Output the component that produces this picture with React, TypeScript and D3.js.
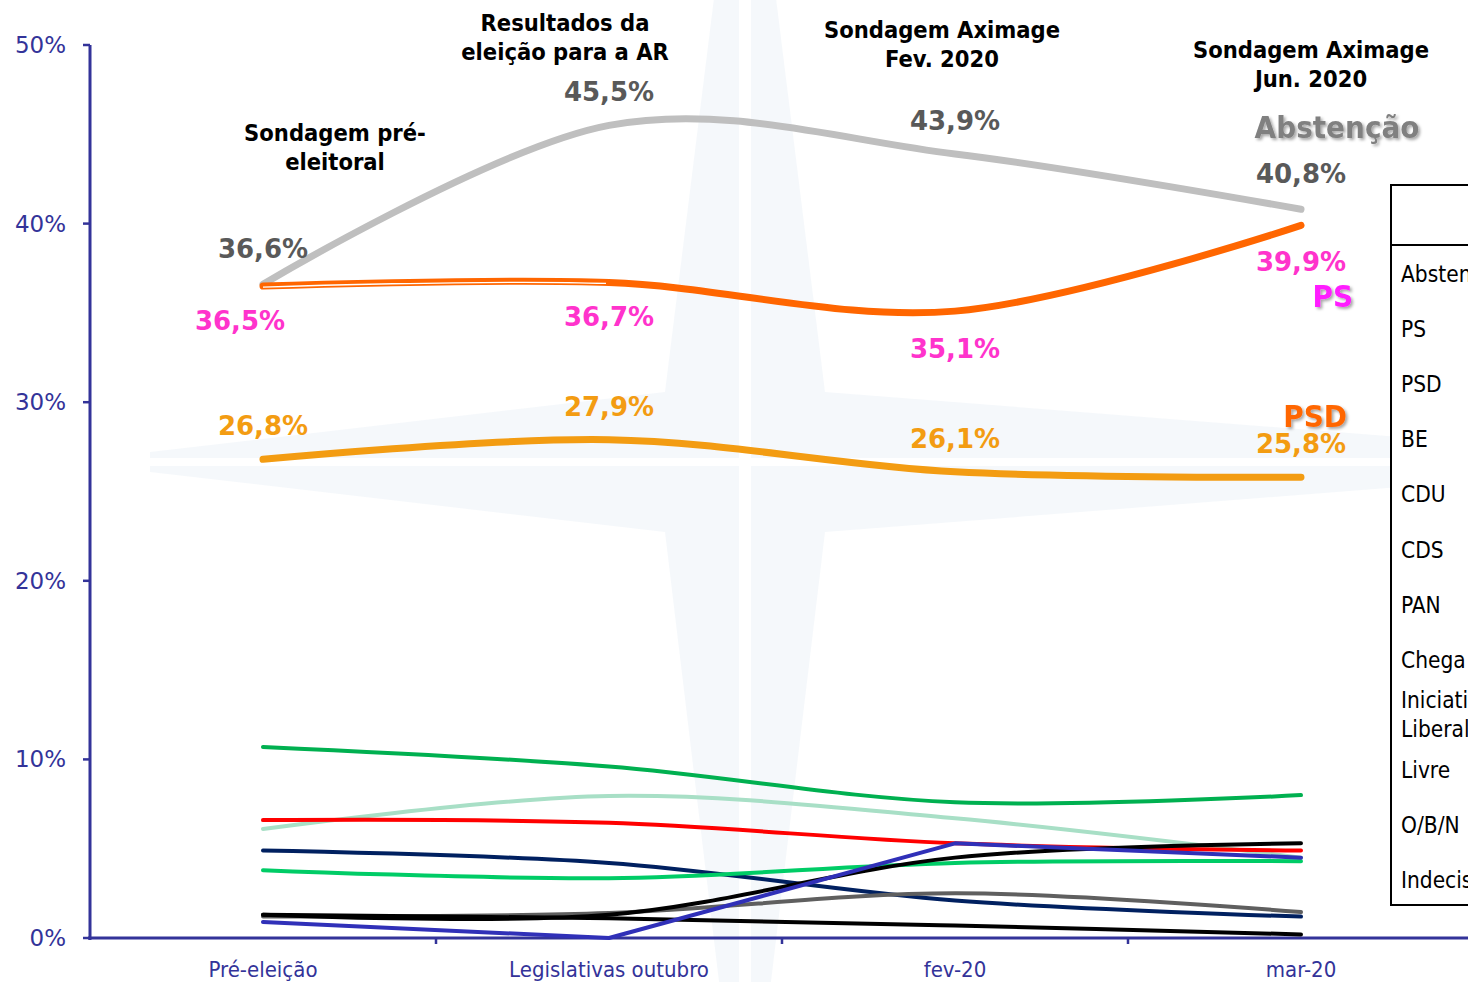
import React, { useEffect, useRef } from 'react';
import * as d3 from 'd3';

// categories on the x axis
const categories = ['Pré-eleição', 'Legislativas outubro', 'fev-20', 'mar-20'];

// series values (% of respondents)
const abstencao = [36.6, 45.5, 43.9, 40.8];
const ps = [36.5, 36.7, 35.1, 39.9];
const psd = [26.8, 27.9, 26.1, 25.8];
const be = [10.7, 9.6, 7.6, 8.0];
const cdu = [6.6, 6.45, 5.3, 4.9];
const cds = [4.9, 4.2, 2.1, 1.2];
const pan = [3.8, 3.35, 4.2, 4.3];
const chega = [1.3, 1.3, 4.5, 5.3];
const iniciativaLiberal = [1.2, 1.4, 2.5, 1.45];
const livre = [1.3, 1.1, 0.7, 0.2];
const obn = [6.1, 7.95, 6.7, 4.5];
const indecisos = [0.9, 0.0, 5.3, 4.5];

const yTicks = [0, 10, 20, 30, 40, 50];

const legendNames = ['Abstenção', 'PS', 'PSD', 'BE', 'CDU', 'CDS', 'PAN', 'Chega', 'Iniciativa Liberal', 'Livre', 'O/B/N', 'Indecisos'];

const pollTitles = [
  ['Sondagem pré-', 'eleitoral'],
  ['Resultados da', 'eleição para a AR'],
  ['Sondagem Aximage', 'Fev. 2020'],
  ['Sondagem Aximage', 'Jun. 2020'],
];

const fmt = (v: number) => v.toFixed(1).replace('.', ',') + '%';

const App: React.FC = () => {
  const chartRef = useRef<SVGSVGElement | null>(null);

  useEffect(() => {
    if (!chartRef.current) return;
    const svg = d3.select(chartRef.current);
    svg.selectAll('*').remove();

    const W = 1468;
    const H = 982;
    const axisColor = '#333399';
    const boldFont = "'DejaVu Sans', Verdana, sans-serif";
    const titleFont = "'DejaVu Sans Condensed', 'DejaVu Sans', sans-serif";
    const plainFont = "'DejaVu Sans Condensed', 'DejaVu Sans', sans-serif";

    svg.attr('width', W).attr('height', H);

    // shadow filter for the big series names
    const defs = svg.append('defs');
    const f = defs.append('filter').attr('id', 'shadow').attr('x', '-10%').attr('y', '-20%').attr('width', '130%').attr('height', '150%');
    f.append('feDropShadow').attr('dx', 2).attr('dy', 2).attr('stdDeviation', 1.5)
      .attr('flood-color', '#000').attr('flood-opacity', 0.35);
    defs.append('clipPath').attr('id', 'psFirst')
      .append('rect').attr('x', 262).attr('y', 0).attr('width', 344).attr('height', H);

    const x = d3.scaleBand<string>().domain(categories).range([90, 1474]);
    const cx = (c: string) => (x(c) as number) + x.bandwidth() / 2;
    const y = d3.scaleLinear().domain([0, 50]).range([938, 45]);

    // faint compass watermark
    const wm = svg.append('g');
    const c0 = { x: 745, y: 462 };
    wm.append('polygon')
      .attr('points', [
        [c0.x - 30, -10], [c0.x + 30, -10], [c0.x + 80, c0.y - 70], [1400, c0.y - 25], [1400, c0.y + 25], [c0.x + 80, c0.y + 70],
        [c0.x + 25, 990], [c0.x - 25, 990], [c0.x - 80, c0.y + 70], [150, c0.y + 10], [150, c0.y - 10], [c0.x - 80, c0.y - 70],
      ].map(p => p.join(',')).join(' '))
      .attr('fill', '#f2f5fa')
      .attr('opacity', 0.75);
    wm.append('line').attr('x1', c0.x).attr('x2', c0.x).attr('y1', 0).attr('y2', H)
      .attr('stroke', '#fff').attr('stroke-width', 12);
    wm.append('line').attr('x1', 90).attr('x2', W).attr('y1', c0.y).attr('y2', c0.y)
      .attr('stroke', '#fff').attr('stroke-width', 8);

    // axes
    const axes = svg.append('g').attr('stroke', axisColor);
    axes.append('line').attr('x1', 90).attr('x2', 90).attr('y1', y(50)).attr('y2', 940).attr('stroke-width', 3);
    axes.append('line').attr('x1', 88).attr('x2', W).attr('y1', y(0)).attr('y2', y(0)).attr('stroke-width', 3);
    yTicks.forEach(t => {
      axes.append('line').attr('x1', 83).attr('x2', 90).attr('y1', y(t)).attr('y2', y(t)).attr('stroke-width', 2.5);
    });
    categories.slice(1).forEach(c => {
      const tx = x(c) as number;
      axes.append('line').attr('x1', tx).attr('x2', tx).attr('y1', y(0)).attr('y2', y(0) + 6).attr('stroke-width', 2.5);
    });

    svg.append('g').selectAll('text').data(yTicks).enter().append('text')
      .attr('x', 66).attr('y', d => y(d) + 8)
      .attr('text-anchor', 'end')
      .style('font-family', boldFont).style('font-size', '23px')
      .attr('fill', axisColor)
      .text(d => `${d}%`);

    svg.append('g').selectAll('text').data(categories).enter().append('text')
      .attr('x', d => cx(d)).attr('y', 977)
      .attr('text-anchor', 'middle')
      .style('font-family', plainFont).style('font-size', '22px')
      .attr('fill', axisColor)
      .text(d => d);

    // lines
    const smooth = d3.line<number>()
      .x((_, i) => cx(categories[i]))
      .y(d => y(d))
      .curve(d3.curveCardinal.tension(0));
    const straight = d3.line<number>()
      .x((_, i) => cx(categories[i]))
      .y(d => y(d));

    const series: { values: number[]; color: string; width: number; smooth: boolean }[] = [
      { values: be, color: '#00b050', width: 4, smooth: true },
      { values: obn, color: '#a8dfc6', width: 4, smooth: true },
      { values: cdu, color: '#ff0000', width: 4, smooth: true },
      { values: cds, color: '#002060', width: 4, smooth: true },
      { values: pan, color: '#00cc66', width: 4, smooth: true },
      { values: iniciativaLiberal, color: '#5f5f5f', width: 4, smooth: true },
      { values: livre, color: '#000000', width: 4, smooth: true },
      { values: chega, color: '#000000', width: 4, smooth: true },
      { values: indecisos, color: '#3030b8', width: 4, smooth: false },
      { values: psd, color: '#f39c12', width: 7, smooth: true },
      { values: abstencao, color: '#bfbfbf', width: 7, smooth: true },
      { values: ps, color: '#ff6600', width: 7, smooth: true },
    ];

    series.forEach(s => {
      svg.append('path')
        .attr('d', (s.smooth ? smooth : straight)(s.values))
        .attr('fill', 'none')
        .attr('stroke', s.color)
        .attr('stroke-width', s.width)
        .attr('stroke-linecap', 'round')
        .attr('stroke-linejoin', 'round');
    });

    // thin white seam along the first PS segment
    svg.append('path')
      .attr('d', smooth(ps))
      .attr('transform', 'translate(0,1)')
      .attr('clip-path', 'url(#psFirst)')
      .attr('fill', 'none')
      .attr('stroke', '#fff')
      .attr('stroke-width', 1.3);

    // value labels
    const valueLabel = (v: number, i: number, dy: number, color: string, dx = 0) => {
      svg.append('text')
        .attr('x', cx(categories[i]) + dx)
        .attr('y', y(v) + dy)
        .attr('text-anchor', 'middle')
        .style('font-family', boldFont).style('font-size', '26px').style('font-weight', 'bold')
        .attr('fill', color)
        .text(fmt(v));
    };
    const absOffsets = [-26, -24, -24, -26];
    abstencao.forEach((v, i) => valueLabel(v, i, absOffsets[i], '#595959'));
    const psOffsets = [44, 43, 47, 46];
    const psDx = [-23, 0, 0, 0];
    ps.forEach((v, i) => valueLabel(v, i, psOffsets[i], '#ff33cc', psDx[i]));
    const psdOffsets = [-24, -24, -24, -24];
    psd.forEach((v, i) => valueLabel(v, i, psdOffsets[i], '#f39c12'));

    // series names
    const bigName = (t: string, xPos: number, yPos: number, color: string, anchor: string) => {
      svg.append('text')
        .attr('x', xPos).attr('y', yPos)
        .attr('text-anchor', anchor)
        .style('font-family', titleFont).style('font-size', '31px').style('font-weight', 'bold')
        .attr('fill', color)
        .attr('filter', 'url(#shadow)')
        .text(t);
    };
    bigName('Abstenção', 1337, 138, '#808080', 'middle');
    bigName('PS', 1353, 307, '#ff1aff', 'end');
    bigName('PSD', 1347, 427, '#ff6600', 'end');

    // poll titles
    const titlePos = [
      { x: 335, y: 141 },
      { x: 565, y: 31 },
      { x: 942, y: 38 },
      { x: 1311, y: 58 },
    ];
    pollTitles.forEach((lines, i) => {
      lines.forEach((t, j) => {
        svg.append('text')
          .attr('x', titlePos[i].x).attr('y', titlePos[i].y + j * 29)
          .attr('text-anchor', 'middle')
          .style('font-family', titleFont).style('font-size', '23.5px').style('font-weight', 'bold')
          .attr('fill', '#000')
          .text(t);
      });
    });

    // legend box (cut off at the right edge)
    const lg = svg.append('g');
    lg.append('rect').attr('x', 1391).attr('y', 185).attr('width', 120).attr('height', 720)
      .attr('fill', '#fff').attr('stroke', '#000').attr('stroke-width', 2);
    lg.append('line').attr('x1', 1391).attr('x2', W).attr('y1', 245).attr('y2', 245)
      .attr('stroke', '#000').attr('stroke-width', 2);
    legendNames.forEach((name, i) => {
      const rowY = 274 + i * 55.1;
      const parts = name === 'Iniciativa Liberal' ? ['Iniciativa', 'Liberal'] : [name];
      parts.forEach((p, j) => {
        svg.append('text')
          .attr('x', 1401)
          .attr('y', rowY + 8 + (j - (parts.length - 1) / 2) * 29)
          .style('font-family', plainFont).style('font-size', '22.5px')
          .attr('fill', '#000')
          .text(p);
      });
    });
  }, []);

  return (
    <svg ref={chartRef} style={{ position: 'absolute', left: 0, top: 0, display: 'block' }}></svg>
  );
};

export default App;
